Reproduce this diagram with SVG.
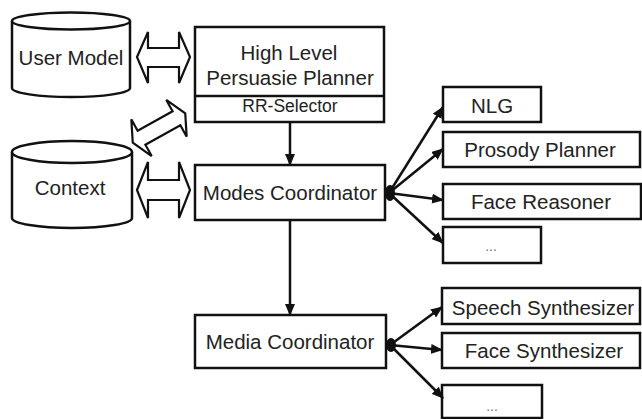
<svg xmlns="http://www.w3.org/2000/svg" width="642" height="419" viewBox="0 0 642 419">
<defs>
<style>
.box{fill:#fff;stroke:#111;stroke-width:2.5}
.cyl{fill:#fff;stroke:#111;stroke-width:2.5}
.t{font-family:"Liberation Sans",Arial,sans-serif;font-size:20.5px;fill:#222;text-anchor:middle}
.s{font-size:17.5px}
.dots{font-size:14px;fill:#777}
.ln{stroke:#111;stroke-width:2.5;fill:none}
.blk{fill:#fff;stroke:#111;stroke-width:2.2;stroke-linejoin:miter}
</style>
<marker id="ah" viewBox="0 0 12 10" refX="11" refY="5" markerWidth="12" markerHeight="10" markerUnits="userSpaceOnUse" orient="auto">
<path d="M0,0 L12,5 L0,10 Z" fill="#111"/>
</marker>
</defs>
<rect width="642" height="419" fill="#fff"/>

<g id="user-model">
<path class="cyl" d="M12,21 L12,88 A59,9 0 0 0 130,88 L130,21"/>
<ellipse class="cyl" cx="71" cy="21" rx="59" ry="8.5"/>
<text class="t" x="71" y="65">User Model</text>
</g>

<g id="context">
<path class="cyl" d="M12,152 L12,218 A60,10 0 0 0 132,218 L132,152"/>
<ellipse class="cyl" cx="72" cy="152" rx="60" ry="11"/>
<text class="t" x="70" y="195">Context</text>
</g>

<g id="high-level-planner">
<rect class="box" x="195" y="27" width="189" height="95"/>
<line class="ln" x1="195" y1="96" x2="384" y2="96"/>
<text class="t" x="289" y="60">High Level</text>
<text class="t" x="290" y="85">Persuasie Planner</text>
<text class="t s" x="290" y="112">RR-Selector</text>
</g>

<g id="modes-coordinator">
<rect class="box" x="195" y="165" width="190" height="55"/>
<text class="t" x="290" y="200">Modes Coordinator</text>
</g>

<g id="media-coordinator">
<rect class="box" x="195" y="315" width="191" height="53"/>
<text class="t" x="290" y="349">Media Coordinator</text>
</g>

<g id="nlg">
<rect class="box" x="443" y="87" width="98" height="35"/>
<text class="t" x="492" y="113">NLG</text>
</g>

<g id="prosody-planner">
<rect class="box" x="443" y="132" width="197" height="35"/>
<text class="t" x="540" y="157">Prosody Planner</text>
</g>

<g id="face-reasoner">
<rect class="box" x="443" y="184" width="198" height="35"/>
<text class="t" x="541" y="209">Face Reasoner</text>
</g>

<g id="modes-more">
<rect class="box" x="443" y="227" width="98" height="36"/>
<text class="t dots" x="491" y="251">...</text>
</g>

<g id="speech-synthesizer">
<rect class="box" x="442" y="288" width="198" height="36"/>
<text class="t" x="543" y="315">Speech Synthesizer</text>
</g>

<g id="face-synthesizer">
<rect class="box" x="442" y="333" width="198" height="35"/>
<text class="t" x="544" y="358">Face Synthesizer</text>
</g>

<g id="media-more">
<rect class="box" x="442" y="385" width="100" height="33"/>
<text class="t dots" x="492" y="411">...</text>
</g>

<g id="connectors">
<polygon class="blk" points="137,57 148,32 148,48 179,48 179,32 190,57 179,83 179,67 148,67 148,83"/>
<polygon class="blk" points="137,190 148,162 148,180 179,180 179,162 190,190 179,218 179,200 148,200 148,218"/>
<polygon class="blk" transform="translate(159,128) rotate(-29)" points="-30,0 -20,-21 -20,-8 20,-8 20,-21 30,0 20,21 20,8 -20,8 -20,21"/>

<line class="ln" x1="290" y1="122" x2="290" y2="165" marker-end="url(#ah)"/>
<line class="ln" x1="290" y1="220" x2="290" y2="315" marker-end="url(#ah)"/>

<line class="ln" x1="389" y1="193" x2="443" y2="107" marker-end="url(#ah)"/>
<line class="ln" x1="389" y1="193" x2="443" y2="149" marker-end="url(#ah)"/>
<line class="ln" x1="389" y1="193" x2="443" y2="200" marker-end="url(#ah)"/>
<line class="ln" x1="389" y1="193" x2="443" y2="243" marker-end="url(#ah)"/>
<ellipse cx="390" cy="193" rx="5" ry="8" fill="#111"/>

<line class="ln" x1="390" y1="345" x2="442" y2="307" marker-end="url(#ah)"/>
<line class="ln" x1="390" y1="345" x2="442" y2="350" marker-end="url(#ah)"/>
<line class="ln" x1="390" y1="345" x2="443" y2="398" marker-end="url(#ah)"/>
<ellipse cx="391" cy="345" rx="5" ry="7" fill="#111"/>
</g>
</svg>
